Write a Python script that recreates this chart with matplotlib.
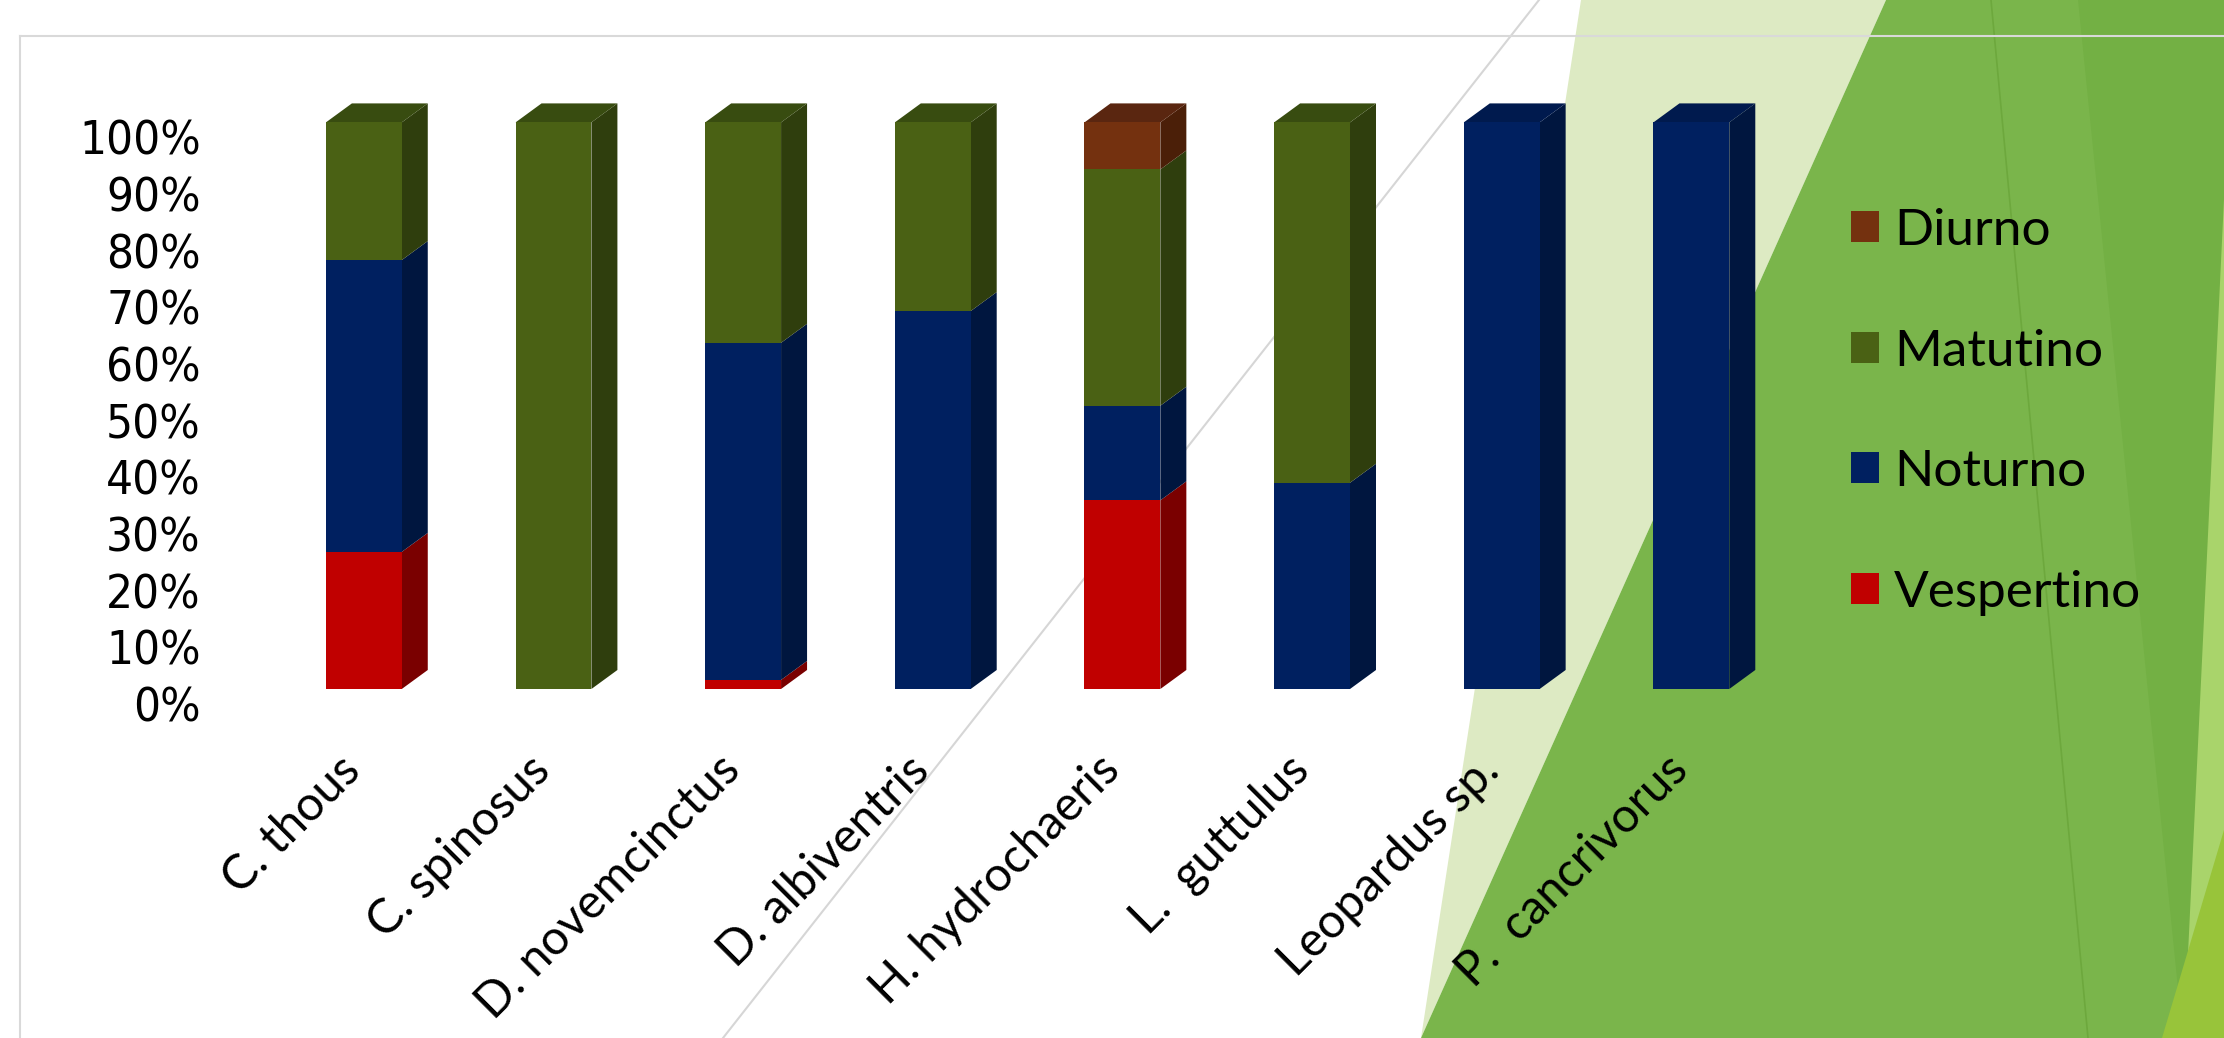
import matplotlib
matplotlib.use("Agg")
import matplotlib.pyplot as plt
import matplotlib.transforms as mtransforms
from matplotlib import font_manager as fm
from matplotlib.patches import Polygon, Patch
from matplotlib.lines import Line2D
import numpy as np

# ---------------- data ----------------
categories = ["C. thous", "C. spinosus", "D. novemcinctus", "D. albiventris",
              "H. hydrochaeris", "L.  guttulus", "Leopardus sp.", "P.  cancrivorus"]
vespertino = [24.2, 0, 1.6, 0, 33.3, 0, 0, 0]
noturno = [51.5, 0, 59.5, 66.7, 16.7, 36.4, 100, 100]
matutino = [24.3, 100, 38.9, 33.3, 41.7, 63.6, 0, 0]
diurno = [0, 0, 0, 0, 8.3, 0, 0, 0]
series_names = ["Vespertino", "Noturno", "Matutino", "Diurno"]
yticks = [0, 10, 20, 30, 40, 50, 60, 70, 80, 90, 100]

# ---------------- styles ----------------
front = {"Vespertino": "#C00000", "Noturno": "#002060", "Matutino": "#4A6114", "Diurno": "#74310F"}
side = {"Vespertino": "#7A0000", "Noturno": "#00163F", "Matutino": "#2F3E0D", "Diurno": "#4B1F08"}
top = {"Vespertino": "#8E0000", "Noturno": "#001A4E", "Matutino": "#384C10", "Diurno": "#5A2610"}

# choose a condensed face for the y tick labels if one is installed
ytick_font = {"fontfamily": ["Lato", "DejaVu Sans"], "fontsize": 36}
try:
    path = fm.findfont(fm.FontProperties(family="Liberation Sans Narrow"), fallback_to_default=False)
    if "Narrow" in path:
        ytick_font = {"fontfamily": ["Liberation Sans Narrow", "DejaVu Sans"], "fontsize": 38}
except Exception:
    try:
        path = fm.findfont(fm.FontProperties(family="DejaVu Sans", stretch="condensed"),
                           fallback_to_default=False)
        if "Condensed" in path:
            ytick_font = {"fontproperties": fm.FontProperties(fname=path, size=34)}
    except Exception:
        pass

W, H = 2224, 1038
DPI = 100
fig = plt.figure(figsize=(W / DPI, H / DPI), dpi=DPI)
fig.patch.set_facecolor("white")

def P(x, y):
    return (x / W, 1 - y / H)

def bg_poly(pts, color, z):
    fig.add_artist(Polygon([P(*p) for p in pts], closed=True, facecolor=color,
                           edgecolor="none", transform=fig.transFigure, zorder=z))

# background decoration (slide theme)
bg_poly([(1581, 0), (1886, 0), (1421, H)], "#DDEAC3", -10)
bg_poly([(1886, 0), (W, 0), (W, H), (1421, H)], "#7AB54B", -9)
bg_poly([(2078, 0), (W, 0), (W, H), (2183, H)], "#73B044", -8)
bg_poly([(W, 199), (W, H), (2184, H)], "#A9D46B", -7)
bg_poly([(2162, H), (W, H), (W, 830)], "#98C43A", -6)
fig.add_artist(Line2D([1991 / W, 2088 / W], [1, 0], color="#6DA83D", lw=1.2,
                      transform=fig.transFigure, zorder=-5))
fig.add_artist(Line2D([1539 / W, 723 / W], [1, 0], color="#D6D6D6", lw=1.5,
                      transform=fig.transFigure, zorder=-4))
# chart-area frame
fig.add_artist(Line2D([20 / W, 1], [1 - 36 / H, 1 - 36 / H], color="#D9D9D9", lw=1.5,
                      transform=fig.transFigure, zorder=-3))
fig.add_artist(Line2D([20 / W, 20 / W], [1 - 36 / H, 0], color="#D9D9D9", lw=1.5,
                      transform=fig.transFigure, zorder=-3))

# ---------------- axes ----------------
L_px, R_px = 221.6, 1833.6
B_px, T_px = 689.0, 122.4
ax = fig.add_axes([L_px / W, 1 - B_px / H, (R_px - L_px) / W, (B_px - T_px) / H])
ax.set_facecolor("none")
ax.set_xlim(-0.75, len(categories) - 0.25)
ax.set_ylim(0, 100)
for s in ax.spines.values():
    s.set_visible(False)

x = np.arange(len(categories))
bw = 0.40
data = {"Vespertino": vespertino, "Noturno": noturno, "Matutino": matutino, "Diurno": diurno}

# depth offset in pixels -> data units
dx_px, dy_px = 26, 19
px_per_x = (R_px - L_px) / (ax.get_xlim()[1] - ax.get_xlim()[0])
px_per_y = (B_px - T_px) / 100.0
ddx = dx_px / px_per_x
ddy = dy_px / px_per_y

bottoms = np.zeros(len(categories))
totals = np.sum([data[n] for n in series_names], axis=0)
for name in series_names:
    vals = np.array(data[name], dtype=float)
    ax.bar(x, vals, bw, bottom=bottoms, color=front[name], edgecolor="none", zorder=3)
    for i in range(len(x)):
        v = vals[i]
        if v <= 0:
            continue
        xr = x[i] + bw / 2
        xl = x[i] - bw / 2
        y0 = bottoms[i]
        y1 = bottoms[i] + v
        ax.add_patch(Polygon([(xr, y0), (xr + ddx, y0 + ddy), (xr + ddx, y1 + ddy), (xr, y1)],
                             closed=True, facecolor=side[name], edgecolor="none",
                             zorder=2, clip_on=False))
        if abs(y1 - totals[i]) < 1e-6:
            ax.add_patch(Polygon([(xl, y1), (xl + ddx, y1 + ddy), (xr + ddx, y1 + ddy), (xr, y1)],
                                 closed=True, facecolor=top[name], edgecolor="none",
                                 zorder=2, clip_on=False))
    bottoms = bottoms + vals

# y ticks
ax.set_yticks(yticks)
ax.set_yticklabels([f"{t}%" for t in yticks], **ytick_font)
ax.tick_params(axis="y", length=0, pad=15)
off = mtransforms.ScaledTranslation(0, -15 / DPI, fig.dpi_scale_trans)
for lab in ax.get_yticklabels():
    lab.set_transform(lab.get_transform() + off)

# x ticks
ax.set_xticks(x)
ax.set_xticklabels(categories, rotation=45, ha="right", va="top", rotation_mode="anchor",
                   fontfamily=["Lato", "DejaVu Sans"], fontsize=34.5)
ax.tick_params(axis="x", length=0, pad=42)
offx = mtransforms.ScaledTranslation(-26 / DPI, 0, fig.dpi_scale_trans)
for lab in ax.get_xticklabels():
    lab.set_transform(lab.get_transform() + offx)

# legend
handles = [Patch(facecolor=front[n], edgecolor="none") for n in reversed(series_names)]
labels = list(reversed(series_names))
fig.legend(handles, labels, loc="upper left", bbox_to_anchor=P(1851, 208),
           frameon=False, prop={"family": ["Lato", "DejaVu Sans"], "size": 37},
           handlelength=0.545, handleheight=0.545, handletextpad=0.29,
           labelspacing=1.45, borderpad=0, borderaxespad=0)

fig.savefig("out.png", dpi=DPI, facecolor=fig.get_facecolor())
